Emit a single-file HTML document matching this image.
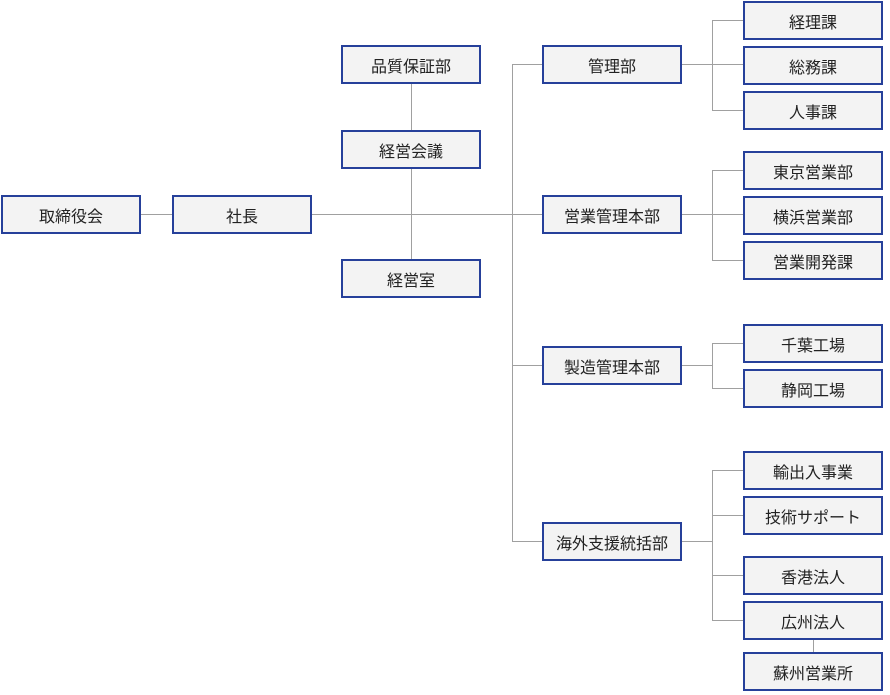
<!DOCTYPE html>
<html><head><meta charset="utf-8"><style>
body{margin:0;width:890px;height:695px;background:#fff;position:relative;overflow:hidden;font-family:"Liberation Sans","Noto Sans CJK JP",sans-serif;}
.b{position:absolute;box-sizing:border-box;border:2px solid #26409a;background:#f3f3f3;color:#222;font-size:16px;display:flex;align-items:center;justify-content:center;height:39px;width:140px;}
svg{position:absolute;left:0;top:0}
</style></head><body>
<svg width="890" height="695"><g stroke="#a0a0a0" stroke-width="1" fill="none" shape-rendering="crispEdges">
<line x1="141" y1="214.5" x2="172" y2="214.5"/>
<line x1="311" y1="214.5" x2="542" y2="214.5"/>
<line x1="411.5" y1="84" x2="411.5" y2="259"/>
<line x1="512.5" y1="64" x2="512.5" y2="541"/>
<line x1="512" y1="64.5" x2="542" y2="64.5"/>
<line x1="512" y1="365.5" x2="542" y2="365.5"/>
<line x1="512" y1="541.5" x2="542" y2="541.5"/>
<line x1="682" y1="64.5" x2="743" y2="64.5"/>
<line x1="682" y1="214.5" x2="743" y2="214.5"/>
<line x1="682" y1="365.5" x2="712" y2="365.5"/>
<line x1="682" y1="541.5" x2="712" y2="541.5"/>
<line x1="712.5" y1="20" x2="712.5" y2="110"/>
<line x1="712" y1="20.5" x2="743" y2="20.5"/>
<line x1="712" y1="110.5" x2="743" y2="110.5"/>
<line x1="712.5" y1="170" x2="712.5" y2="260"/>
<line x1="712" y1="170.5" x2="743" y2="170.5"/>
<line x1="712" y1="260.5" x2="743" y2="260.5"/>
<line x1="712.5" y1="343" x2="712.5" y2="388"/>
<line x1="712" y1="343.5" x2="743" y2="343.5"/>
<line x1="712" y1="388.5" x2="743" y2="388.5"/>
<line x1="712.5" y1="470" x2="712.5" y2="620"/>
<line x1="712" y1="470.5" x2="743" y2="470.5"/>
<line x1="712" y1="515.5" x2="743" y2="515.5"/>
<line x1="712" y1="575.5" x2="743" y2="575.5"/>
<line x1="712" y1="620.5" x2="743" y2="620.5"/>
<line x1="813.5" y1="639" x2="813.5" y2="652"/>
</g></svg>
<div class="b" style="left:1px;top:195px">取締役会</div>
<div class="b" style="left:172px;top:195px">社長</div>
<div class="b" style="left:341px;top:45px">品質保証部</div>
<div class="b" style="left:341px;top:130px">経営会議</div>
<div class="b" style="left:341px;top:259px">経営室</div>
<div class="b" style="left:542px;top:45px">管理部</div>
<div class="b" style="left:542px;top:195px">営業管理本部</div>
<div class="b" style="left:542px;top:346px">製造管理本部</div>
<div class="b" style="left:542px;top:522px">海外支援統括部</div>
<div class="b" style="left:743px;top:1px">経理課</div>
<div class="b" style="left:743px;top:46px">総務課</div>
<div class="b" style="left:743px;top:91px">人事課</div>
<div class="b" style="left:743px;top:151px">東京営業部</div>
<div class="b" style="left:743px;top:196px">横浜営業部</div>
<div class="b" style="left:743px;top:241px">営業開発課</div>
<div class="b" style="left:743px;top:324px">千葉工場</div>
<div class="b" style="left:743px;top:369px">静岡工場</div>
<div class="b" style="left:743px;top:451px">輸出入事業</div>
<div class="b" style="left:743px;top:496px">技術サポート</div>
<div class="b" style="left:743px;top:556px">香港法人</div>
<div class="b" style="left:743px;top:601px">広州法人</div>
<div class="b" style="left:743px;top:652px">蘇州営業所</div>
</body></html>
